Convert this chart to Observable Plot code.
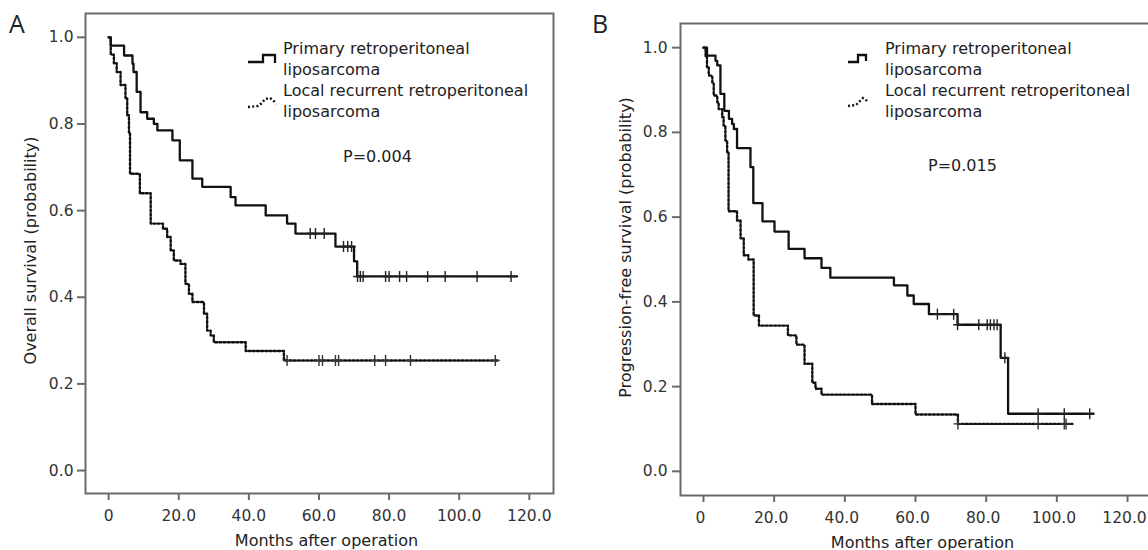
<!DOCTYPE html>
<html><head><meta charset="utf-8">
<script src="https://cdn.jsdelivr.net/npm/d3@7"></script>
<script src="https://cdn.jsdelivr.net/npm/@observablehq/plot@0.6"></script>
<style>
html,body{margin:0;padding:0;background:#fff;}
#wrap{position:relative;width:1148px;height:550px;overflow:hidden;font-family:"DejaVu Sans",sans-serif;}
#wrap > svg, #wrap > figure{position:absolute;top:0;margin:0;}
</style></head><body><div id="wrap"></div>
<script>
// ---------- Data ----------
// Panel A: overall survival
const monthsA_primary = [0, 0.6, 4.4, 6.8, 7.1, 8.0, 9.1, 11.0, 12.9, 13.9, 18.2, 20.3, 23.9, 26.7, 34.8, 36.2, 44.8, 50.9, 53.3, 64.7, 70.0, 70.9, 116.5];
const survA_primary   = [1.0, 0.981, 0.958, 0.939, 0.92, 0.874, 0.827, 0.812, 0.80, 0.785, 0.762, 0.716, 0.674, 0.655, 0.631, 0.612, 0.589, 0.570, 0.547, 0.517, 0.483, 0.448, 0.448];
const censorA_primary = [57.5, 59.0, 61.5, 67.0, 68.2, 69.3, 71.0, 71.8, 72.6, 79.0, 80.0, 83.0, 85.0, 91.0, 96.0, 105.1, 114.8];

const monthsA_recur = [0, 0.6, 1.5, 2.3, 3.4, 4.8, 5.3, 5.8, 6.1, 8.9, 12.0, 15.5, 16.7, 17.7, 18.6, 20.5, 21.9, 22.9, 23.9, 27.2, 28.1, 29.1, 30.0, 39.1, 50.0, 111.3];
const survA_recur   = [1.0, 0.96, 0.94, 0.92, 0.89, 0.86, 0.82, 0.78, 0.685, 0.64, 0.57, 0.558, 0.539, 0.508, 0.485, 0.477, 0.431, 0.408, 0.389, 0.362, 0.323, 0.312, 0.296, 0.276, 0.254, 0.254];
const censorA_recur = [50.9, 60.0, 61.0, 64.7, 65.6, 75.9, 79.0, 86.1, 110.3];

// Panel B: progression-free survival
const monthsB_primary = [0, 1.0, 3.4, 3.9, 4.8, 5.9, 7.2, 8.1, 8.6, 9.5, 13.3, 14.1, 16.7, 20.1, 24.1, 28.6, 33.4, 35.9, 53.9, 57.7, 59.5, 63.8, 71.9, 84.1, 86.2, 110.4];
const survB_primary   = [1.0, 0.981, 0.969, 0.958, 0.891, 0.851, 0.832, 0.82, 0.808, 0.763, 0.718, 0.633, 0.59, 0.566, 0.525, 0.503, 0.48, 0.457, 0.439, 0.415, 0.395, 0.371, 0.346, 0.268, 0.136, 0.136];
const censorB_primary = [66.2, 70.8, 71.9, 77.9, 80.3, 81.2, 82.2, 83.1, 85.3, 94.7, 102.1, 109.3];

const monthsB_recur = [0, 0.6, 1.0, 1.5, 2.5, 2.9, 3.9, 4.3, 5.3, 5.7, 6.2, 6.7, 7.1, 9.5, 10.5, 11.4, 12.7, 14.2, 15.7, 23.9, 26.3, 28.6, 30.8, 31.7, 33.4, 47.7, 60.0, 72.0, 104.4];
const survB_recur   = [1.0, 0.98, 0.953, 0.934, 0.918, 0.887, 0.871, 0.855, 0.836, 0.816, 0.781, 0.753, 0.614, 0.592, 0.55, 0.51, 0.5, 0.368, 0.344, 0.321, 0.299, 0.254, 0.209, 0.195, 0.181, 0.159, 0.134, 0.112, 0.112];
const censorB_recur = [72.0, 94.7, 102.1, 102.6];

const xTicks = [0, 20, 40, 60, 80, 100, 120];
const yTicks = [0, 0.2, 0.4, 0.6, 0.8, 1.0];
const groupLabels = ["Primary retroperitoneal", "liposarcoma", "Local recurrent retroperitoneal", "liposarcoma"];
const xTitle = "Months after operation";
const yTitleA = "Overall survival (probability)";
const yTitleB = "Progression-free survival (probability)";
const pA = "P=0.004", pB = "P=0.015";

// ---------- helpers ----------
const toRows = (ts, ss) => ts.map((t, i) => ({t, s: ss[i]}));
function stepAt(ts, ss, t) { let s = ss[0]; for (let i = 0; i < ts.length; i++) if (ts[i] <= t) s = ss[i]; return s; }
const censorRows = (cs, ts, ss) => cs.map(t => ({t, s: stepAt(ts, ss, t)}));
const plusSymbol = { draw(ctx, size) { const r = Math.sqrt(size / Math.PI); ctx.moveTo(0, -r); ctx.lineTo(0, r); ctx.moveTo(-0.8 * r, 0); ctx.lineTo(0.8 * r, 0); } };
const DOT = "2,2.2";

function panel(o) {
  return Plot.plot({
    width: o.w, height: 550,
    marginLeft: o.ml, marginRight: o.mr, marginTop: o.mt, marginBottom: o.mb,
    style: {fontFamily: "DejaVu Sans, sans-serif", fontSize: "15.5px", color: "#333", background: "transparent", overflow: "visible"},
    x: {domain: o.xd},
    y: {domain: o.yd},
    marks: [
      Plot.frame({stroke: "#6a6a6a", strokeWidth: 2}),
      Plot.axisX({ticks: xTicks, tickSize: 7, tickFormat: () => "", label: null, strokeWidth: 2, stroke: "#6a6a6a"}),
      Plot.axisX({ticks: xTicks, tickSize: 0, tickPadding: 16, tickFormat: d => d === 0 ? "0" : d.toFixed(1), label: null, stroke: "none", dx: o.xtdx}),
      Plot.axisY({ticks: yTicks, tickSize: 8, tickPadding: o.ytp, tickFormat: d3.format(".1f"), label: null, strokeWidth: 2, stroke: "#6a6a6a"}),
      Plot.line(o.recur, {x: "t", y: "s", curve: "step-after", stroke: "#111", strokeWidth: 2.4, strokeDasharray: DOT}),
      Plot.line(o.primary, {x: "t", y: "s", curve: "step-after", stroke: "#111", strokeWidth: 2.3}),
      Plot.dot(o.cRecur, {x: "t", y: "s", symbol: plusSymbol, r: 5.5, stroke: "#333", strokeWidth: 1.4, fill: "none"}),
      Plot.dot(o.cPrimary, {x: "t", y: "s", symbol: plusSymbol, r: 5.5, stroke: "#222", strokeWidth: 1.4, fill: "none"}),
      Plot.text([xTitle], {text: d => d, frameAnchor: "bottom", textAnchor: "middle", dy: 52, dx: 7, fontSize: 16, fill: "#222"}),
      Plot.text([o.yTitle], {text: d => d, frameAnchor: "left", textAnchor: "middle", lineAnchor: "middle", rotate: -90, dx: o.ylDx, dy: o.ylDy, fontSize: 16, fill: "#222"})
    ]
  });
}

const wrap = document.getElementById("wrap");
const svgA = panel({
  w: 574, ml: 85, mr: 21, mt: 13, mb: 57, xd: [-6.6, 126.9], yd: [-0.053, 1.055], ytp: 4, xtdx: 0,
  primary: toRows(monthsA_primary, survA_primary), recur: toRows(monthsA_recur, survA_recur),
  cPrimary: censorRows(censorA_primary, monthsA_primary, survA_primary),
  cRecur: censorRows(censorA_recur, monthsA_recur, survA_recur),
  yTitle: yTitleA, ylDx: -55, ylDy: -3
});
svgA.style.left = "0px";
wrap.appendChild(svgA);
const svgB = panel({
  w: 580, ml: 106, mr: 4, mt: 23, mb: 55, xd: [-6.5, 126.5], yd: [-0.057, 1.057], ytp: 5, xtdx: -3,
  primary: toRows(monthsB_primary, survB_primary), recur: toRows(monthsB_recur, survB_recur),
  cPrimary: censorRows(censorB_primary, monthsB_primary, survB_primary),
  cRecur: censorRows(censorB_recur, monthsB_recur, survB_recur),
  yTitle: yTitleB, ylDx: -55, ylDy: -12
});
svgB.style.left = "574px";
wrap.appendChild(svgB);

// ---------- overlay: panel letters, legends, P values ----------
const ns = "http://www.w3.org/2000/svg";
const ov = document.createElementNS(ns, "svg");
ov.setAttribute("width", 1148); ov.setAttribute("height", 550);
ov.style.position = "absolute"; ov.style.left = "0px"; ov.style.top = "0px";
wrap.appendChild(ov);
function el(tag, attrs, text) { const e = document.createElementNS(ns, tag); for (const k in attrs) e.setAttribute(k, attrs[k]); if (text != null) e.textContent = text; ov.appendChild(e); return e; }

function legend(textX, pX, pY, pText, solidPath, dotPath) {
  el("path", {d: solidPath, fill: "none", stroke: "#111", "stroke-width": 2.3});
  el("path", {d: dotPath, fill: "none", stroke: "#111", "stroke-width": 2.4, "stroke-dasharray": DOT});
  const bases = [54, 75, 96, 117];
  groupLabels.forEach((t, i) => el("text", {x: textX, y: bases[i], "font-family": "DejaVu Sans", "font-size": 16, fill: "#222"}, t));
  el("text", {x: pX, y: pY, "font-family": "DejaVu Sans", "font-size": 16, fill: "#222"}, pText);
}
legend(283, 343, 162, pA, "M248,62 H263 V55 H275 V63", "M248,107 L258,106 L262,103 L265,99 L270,98 L273,100 L276,104");
legend(885, 928, 171, pB, "M848,62 H858 V55 H866 V61", "M848,106 L856,105 L860,101 L863,98 L866,100 L868,103");
el("text", {x: 9, y: 33, "font-family": "Open Sans", "font-size": 25, fill: "#222"}, "A");
el("text", {x: 592, y: 33, "font-family": "Open Sans", "font-size": 25, fill: "#222"}, "B");
</script></body></html>
